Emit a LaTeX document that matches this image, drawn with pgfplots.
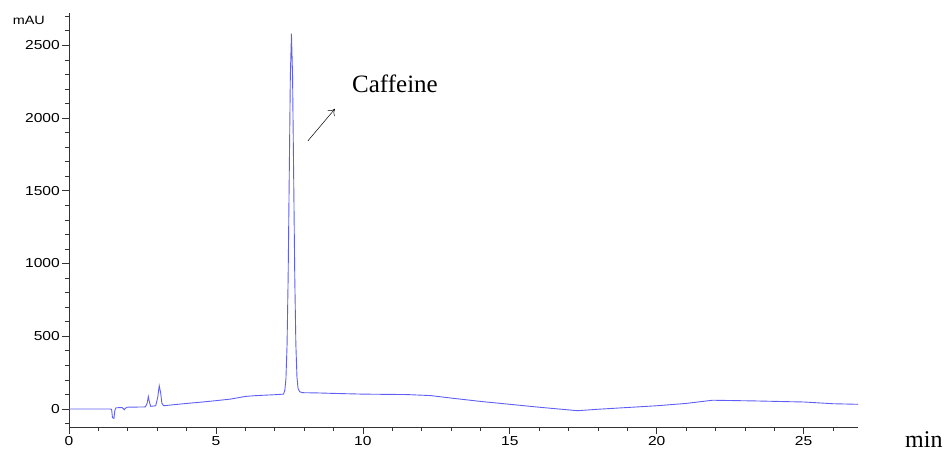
\documentclass[border=0pt]{standalone}
\usepackage{fontspec}
\setmainfont{Liberation Serif}
\newfontfamily\arial{Liberation Sans}
\usepackage{graphicx}
\usepackage{pgfplots}
\pgfplotsset{compat=1.18}
\usetikzlibrary{arrows.meta}
\definecolor{trace}{RGB}{95,95,245}
\begin{document}
\begin{tikzpicture}
\useasboundingbox (0,0) rectangle (948pt,453pt);
\begin{axis}[
  at={(69pt,26pt)}, anchor=south west,
  scale only axis, width=789pt, height=414pt,
  xmin=0, xmax=26.85, ymin=-124, ymax=2722,
  axis lines*=left,
  axis line style={black!80, line width=0.7pt},
  xtick={0,5,10,15,20,25},
  minor xtick={1,2,3,4,6,7,8,9,11,12,13,14,16,17,18,19,21,22,23,24,26},
  ytick={0,500,1000,1500,2000,2500},
  minor ytick={-100,100,200,300,400,600,700,800,900,1100,1200,1300,1400,1600,1700,1800,1900,2100,2200,2300,2400,2600,2700},
  tick align=outside,
  major tick length=7pt, minor tick length=4pt,
  tick style={black!80, line width=0.6pt},
  scaled ticks=false,
  /pgf/number format/1000 sep={},
  xticklabel={\scalebox{1.2}[1]{\pgfmathprintnumber[assume math mode=true]{\tick}}},
  yticklabel={\scalebox{1.2}[1]{\pgfmathprintnumber[assume math mode=true]{\tick}}},
  ticklabel style={font=\arial\fontsize{13}{15}\selectfont, inner sep=2pt},
  clip=false,
]
\addplot[trace, line width=0.9pt] coordinates {
(0,0) (1.40,0) (1.45,-3) (1.48,-60) (1.53,-65) (1.56,-10) (1.60,8) (1.80,10)
(1.85,2) (1.88,-5) (1.92,5) (1.98,12) (2.60,14) (2.66,40) (2.70,85) (2.74,45)
(2.78,18) (2.95,22) (3.02,80) (3.07,160) (3.12,110) (3.16,40) (3.22,22)
(3.6,30) (4.0,38) (4.5,47) (5.0,57) (5.5,68) (6.0,86) (6.3,91) (7.0,98)
(7.30,102) (7.345,128) (7.3825,209) (7.42,436) (7.4575,905) (7.495,1604)
(7.5325,2289) (7.57,2580) (7.6075,2295) (7.645,1610) (7.6825,912) (7.72,445)
(7.7575,220) (7.795,140) (7.85,118) (7.95,112) (8.5,110) (9.0,107)
(10.0,102) (11.0,100) (11.5,99) (12.3,92) (13.0,75) (14.0,52) (15.0,32)
(16.0,12) (17.3,-12) (18.0,-2) (19.0,10) (20.0,22) (21.0,38) (21.9,60)
(22.5,58) (23.4,55) (24.5,50) (25.0,48) (26.0,36) (26.85,32)
};
\draw[-{To[length=6pt,width=9pt]}, line width=0.5pt] (axis cs:8.13,1843) -- (axis cs:9.05,2063);
\node[anchor=base west, inner sep=0pt, font=\fontsize{25}{30}\selectfont] at (axis cs:9.63,2173) {Caffeine};
\end{axis}
\node[anchor=base east, inner sep=0pt, font=\arial\fontsize{12}{14}\selectfont] at (45pt,428pt) {\scalebox{1.2}[1]{mAU}};
\node[anchor=base west, inner sep=0pt, font=\fontsize{24}{29}\selectfont] at (905pt,6pt) {min};
\end{tikzpicture}
\end{document}
